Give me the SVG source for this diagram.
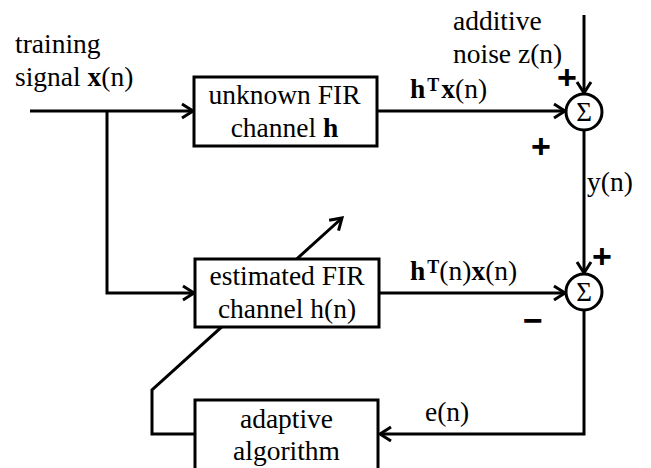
<svg xmlns="http://www.w3.org/2000/svg" width="651" height="468" viewBox="0 0 651 468">
  <style>
    .box { fill: #fff; stroke: #000; stroke-width: 3; }
    .sum { fill: #fff; stroke: #000; stroke-width: 3; }
    .wire { fill: none; stroke: #000; stroke-width: 3; }
    .lbl { font-family: 'Liberation Serif', 'Times New Roman', Tinos, 'DejaVu Serif', serif; font-size: 27.5px; font-weight: normal; fill: #000; }
    .ctr { text-anchor: middle; }
    .b { font-weight: bold; }
    .sup { font-size: 18px; font-weight: bold; }
    .sigma { font-size: 27px; }
    .sign { font-family: 'Liberation Sans', Arial, sans-serif; font-size: 34px; font-weight: bold; fill: #000; text-anchor: middle; }
  </style>
  <defs>
    <marker id="arrow" markerUnits="userSpaceOnUse" markerWidth="20" markerHeight="20" viewBox="-14 -10 20 20" refX="0" refY="0" orient="auto">
      <path d="M-11,-7 L0,0 L-11,7" fill="none" stroke="#000" stroke-width="3"/>
    </marker>
  </defs>

  <rect width="651" height="468" fill="#fff"/>

  <!-- connectors -->
  <g id="connectors" class="wire">
    <!-- input to unknown channel -->
    <line x1="30" y1="111" x2="193" y2="111" marker-end="url(#arrow)"/>
    <!-- branch to estimated channel -->
    <polyline points="107,111 107,293 194,293" marker-end="url(#arrow)"/>
    <!-- unknown channel output to first sum -->
    <line x1="377" y1="111" x2="565" y2="111" marker-end="url(#arrow)"/>
    <!-- additive noise -->
    <line x1="584" y1="15" x2="584" y2="93" marker-end="url(#arrow)"/>
    <!-- y(n) to second sum -->
    <line x1="584" y1="130" x2="584" y2="273" marker-end="url(#arrow)"/>
    <!-- estimated output to second sum -->
    <line x1="379" y1="293" x2="565" y2="293" marker-end="url(#arrow)"/>
    <!-- error to adaptive algorithm -->
    <polyline points="584,311 584,434 380,434" marker-end="url(#arrow)"/>
    <!-- adaptation path through the estimated channel -->
    <polyline points="195,434 152,434 152,390 342,218" marker-end="url(#arrow)"/>
  </g>

  <!-- unknown FIR channel -->
  <g id="unknown-channel">
    <rect class="box" x="194" y="77" width="183" height="69"/>
    <text class="lbl ctr" x="284.5" y="104">unknown FIR</text>
    <text class="lbl ctr" x="284.5" y="137">channel <tspan class="b">h</tspan></text>
  </g>

  <!-- estimated FIR channel -->
  <g id="estimated-channel">
    <rect class="box" x="195" y="259" width="184" height="68"/>
    <text class="lbl ctr" x="287" y="285">estimated FIR</text>
    <text class="lbl ctr" x="287" y="318">channel h(n)</text>
  </g>

  <!-- adaptive algorithm -->
  <g id="adaptive-algorithm">
    <rect class="box" x="195" y="400" width="183" height="72"/>
    <text class="lbl ctr" x="286.5" y="428">adaptive</text>
    <text class="lbl ctr" x="286.5" y="460">algorithm</text>
  </g>

  <!-- summing junctions -->
  <g id="sum-1">
    <circle class="sum" cx="584" cy="112" r="18"/>
    <text class="lbl ctr sigma" x="584" y="121">Σ</text>
  </g>
  <g id="sum-2">
    <circle class="sum" cx="584" cy="292" r="18"/>
    <text class="lbl ctr sigma" x="584" y="301">Σ</text>
  </g>

  <!-- signal labels -->
  <g id="labels">
    <text class="lbl" x="15" y="53">training</text>
    <text class="lbl" x="15" y="86">signal <tspan class="b">x</tspan>(n)</text>
    <text class="lbl" x="453" y="30">additive</text>
    <text class="lbl" x="453" y="63">noise z(n)</text>
    <text class="lbl" x="410" y="98"><tspan class="b">h</tspan><tspan class="sup" dx="2" dy="-7">T</tspan><tspan class="b" dx="2" dy="7">x</tspan>(n)</text>
    <text class="lbl" x="410" y="280"><tspan class="b">h</tspan><tspan class="sup" dx="2" dy="-7">T</tspan><tspan dy="7">(n)</tspan><tspan class="b">x</tspan>(n)</text>
    <text class="lbl" x="587" y="191">y(n)</text>
    <text class="lbl" x="425" y="421">e(n)</text>
    <text class="sign" x="567" y="89">+</text>
    <text class="sign" x="541" y="158">+</text>
    <text class="sign" x="602" y="268">+</text>
    <text class="sign" x="533" y="332">−</text>
  </g>
</svg>
